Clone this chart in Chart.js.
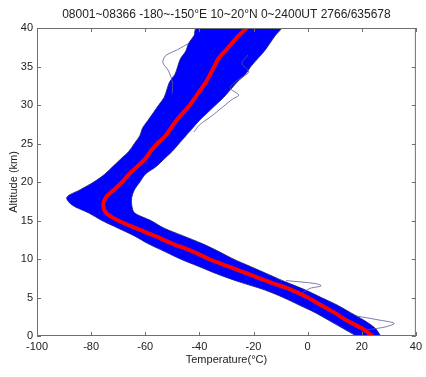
<!DOCTYPE html>
<html>
<head>
<meta charset="utf-8">
<script src="https://cdn.jsdelivr.net/npm/chart.js@4.4.0/dist/chart.umd.min.js"></script>
<style>
  html, body { margin: 0; padding: 0; background: #fff; }
  #wrap { width: 426px; height: 377px; }
</style>
</head>
<body>
<div id="wrap"><canvas id="myChart" width="426" height="377"></canvas></div>
<script>
// altitude levels (km) shared by the profiles below
var altKm = [0, 1, 2, 3, 4, 5, 6, 7, 8, 9, 10, 11, 12, 13, 14, 15, 16, 17, 18, 19, 20,
             21, 22, 23, 24, 25, 26, 27, 28, 29, 30, 31, 32, 33, 34, 35, 36, 37, 38, 39, 40];
// mean profile (red)
var meanT = [24, 20, 14.5, 10, 5, 0, -6, -14, -21.5, -29, -36.5, -42.5, -50, -56.5, -63.5, -70, -74.5, -75.5, -74.5, -71.5, -68.5,
             -66, -63, -60, -58, -55.5, -52.5, -50.5, -48.5, -46, -43.5, -41.5, -39.5, -37.5, -36, -34.5, -33, -30.5, -28, -25.5, -22.5];
// cold and warm edges of the bundle of 2766 soundings (blue)
var coldT = [18, 13, 8, 3, -3, -9, -16, -25, -33, -40, -47, -53, -59, -64, -70, -76, -81, -87, -89, -84, -79,
             -75, -72, -69, -66, -64, -62, -61, -59, -57, -55, -53, -52, -51, -49, -48, -47, -45, -44, -42, -41];
var warmT = [27, 25, 21, 16, 11, 5, -1, -8, -14.5, -21, -27.5, -33, -39, -46, -53, -58, -64, -65, -65, -64, -62,
             -60, -56, -53, -50, -47.5, -45, -42.5, -40, -37, -34, -31, -28.5, -26, -23, -21, -18.5, -16, -14, -12, -10];

// a few stray soundings that stick out of the bundle
var strayWarmAlt = [26.5, 27.4, 28.7, 30.7, 31.3, 32.2, 33.2, 34.3, 35.4, 36.5];
var strayWarmT   = [-42, -40, -35, -28, -25.5, -28.6, -26, -21.8, -24.3, -22];
var strayColdAlt = [31.5, 33.0, 34.5, 35.5, 36.4, 37.2, 38.0];
var strayColdT   = [-50, -50, -51.5, -53.5, -52.5, -48, -44];
var straySfcAlt  = [0.8, 1.2, 1.65, 2.1, 2.6];
var straySfcT    = [22, 29, 32, 26, 18];
var strayMidAlt  = [5.6, 6.2, 6.5, 6.8, 7.2];
var strayMidT    = [-2, 1, 5, 3, -8];

var xTicks = [-100, -80, -60, -40, -20, 0, 20, 40];
var yTicks = [0, 5, 10, 15, 20, 25, 30, 35, 40];

function pts(ts, hs) {
    return ts.map(function (t, i) { return { x: t, y: hs[i] }; });
}

// closed outline: cold edge going up, warm edge coming back down
var bundle = pts(coldT, altKm).concat(pts(warmT, altKm).reverse());

// MATLAB style box with inward ticks on all four sides
var boxPlugin = {
    id: 'box',
    afterDatasetsDraw: function (chart) {
        var ctx = chart.ctx, a = chart.chartArea;
        var x = chart.scales.x, y = chart.scales.y;
        ctx.save();
        ctx.strokeStyle = '#6f6f6f';
        ctx.lineWidth = 1;
        ctx.strokeRect(a.left + 0.5, a.top + 0.5, a.right - a.left - 1, a.bottom - a.top - 1);
        ctx.beginPath();
        xTicks.forEach(function (v) {
            var px = Math.round(x.getPixelForValue(v)) + 0.5;
            ctx.moveTo(px, a.bottom); ctx.lineTo(px, a.bottom - 4);
            ctx.moveTo(px, a.top); ctx.lineTo(px, a.top + 4);
        });
        yTicks.forEach(function (v) {
            var py = Math.round(y.getPixelForValue(v)) + 0.5;
            ctx.moveTo(a.left, py); ctx.lineTo(a.left + 4, py);
            ctx.moveTo(a.right, py); ctx.lineTo(a.right - 4, py);
        });
        ctx.stroke();
        ctx.restore();
    }
};

var stray = { showLine: true, pointRadius: 0, borderWidth: 0.8, borderColor: '#5b5b96', tension: 0.3, fill: false };

var ctx = document.getElementById('myChart').getContext('2d');
var myChart = new Chart(ctx, {
    type: 'scatter',
    data: {
        datasets: [
            { label: 'mean', data: pts(meanT, altKm), showLine: true, pointRadius: 0,
              borderColor: '#ff0000', borderWidth: 4, tension: 0.3, fill: false },
            Object.assign({ label: 'stray1', data: pts(strayWarmT, strayWarmAlt) }, stray),
            Object.assign({ label: 'stray2', data: pts(strayColdT, strayColdAlt) }, stray),
            Object.assign({ label: 'stray3', data: pts(straySfcT, straySfcAlt) }, stray),
            Object.assign({ label: 'stray4', data: pts(strayMidT, strayMidAlt) }, stray),
            { label: 'soundings', data: bundle, showLine: true, pointRadius: 0,
              borderColor: 'rgba(30,30,120,0.85)', borderWidth: 1, backgroundColor: '#0000ff',
              tension: 0.3, fill: 'shape' }
        ]
    },
    options: {
        responsive: false,
        animation: false,
        layout: { padding: { right: 7, left: 0, bottom: 0 } },
        plugins: {
            legend: { display: false },
            tooltip: { enabled: false },
            title: {
                display: true,
                fullSize: false,
                text: '08001~08366 -180~-150°E 10~20°N 0~2400UT 2766/635678',
                color: '#222',
                font: { family: 'Liberation Sans, Arial, sans-serif', size: 12, weight: 'normal' },
                padding: { top: 7, bottom: 6.6 }
            }
        },
        scales: {
            x: {
                type: 'linear', min: -100, max: 40,
                afterFit: function (s) { s.height = 41; },
                afterBuildTicks: function (s) { s.ticks = xTicks.map(function (v) { return { value: v }; }); },
                ticks: { color: '#222', padding: 4, font: { family: 'Liberation Sans, Arial, sans-serif', size: 11 } },
                grid: { display: false, drawTicks: false },
                border: { display: false },
                title: { display: true, text: 'Temperature(°C)', color: '#222', padding: { top: 0, bottom: 10 },
                         font: { family: 'Liberation Sans, Arial, sans-serif', size: 11 } }
            },
            y: {
                type: 'linear', min: 0, max: 40,
                afterFit: function (s) { s.width = 37; },
                afterBuildTicks: function (s) { s.ticks = yTicks.map(function (v) { return { value: v }; }); },
                ticks: { color: '#222', padding: 4, font: { family: 'Liberation Sans, Arial, sans-serif', size: 11 } },
                grid: { display: false, drawTicks: false },
                border: { display: false },
                title: { display: true, text: 'Altitude (km)', color: '#222', padding: { top: 7, bottom: 0 },
                         font: { family: 'Liberation Sans, Arial, sans-serif', size: 11 } }
            }
        }
    },
    plugins: [boxPlugin]
});
</script>
</body>
</html>
